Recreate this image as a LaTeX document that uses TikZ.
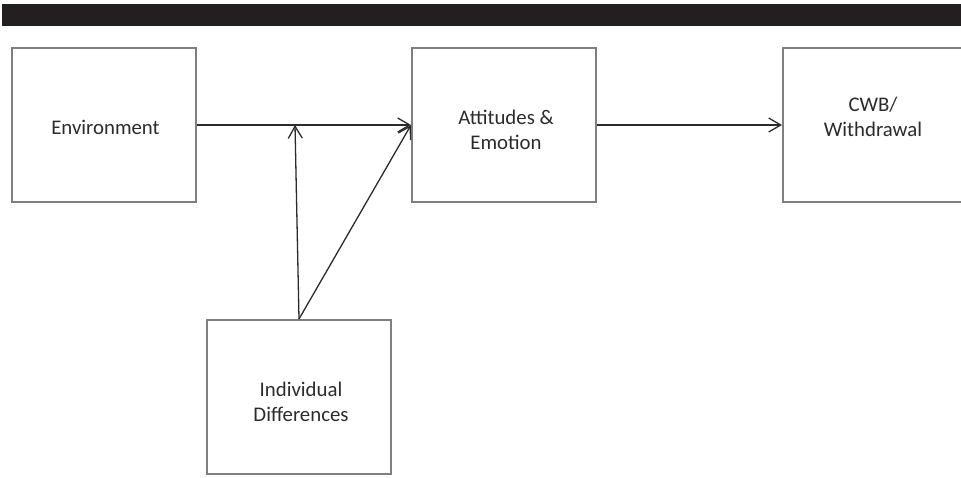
\documentclass[tikz,border=0pt]{standalone}
\usepackage{fontspec}
\setmainfont{Carlito}
\usetikzlibrary{arrows.meta, positioning}
\definecolor{barblack}{HTML}{231F20}
\definecolor{boxgray}{HTML}{7F7F7F}
\definecolor{inkgray}{HTML}{2B2B2B}
\tikzset{
  block/.style = {draw=boxgray, line width=1pt, minimum width=92pt, minimum height=77pt},
  boxtext/.style = {align=center, text=inkgray, inner sep=0pt, font=\fontsize{10.4}{12.5}\selectfont},
  link/.style = {draw=inkgray, line width=0.65pt, -{Straight Barb[length=6pt, width=7pt]}}
}

\begin{document}
\begin{tikzpicture}[x=0.5pt, y=-0.5pt]

  % Frame
  \useasboundingbox (0,0) rectangle (961,477);
  \clip (0,0) rectangle (961,477);
  \fill[barblack] (2,4) rectangle (961,26);

  % Boxes
  \node[block] (env) at (104,125) {};
  \node[block] (att) at (504,125) {};
  \node[block] (cwb) at (875,125) {};
  \node[block] (indiv) at (299,397) {};

  % Texts
  \node[boxtext] (envtext) at (105.5,127.5) {Environment};
  \node[boxtext] (atttext) at (506,129.5) {Attitudes \&\\Emotion};
  \node[boxtext] (cwbtext) at (873,117) {CWB/\\Withdrawal};
  \node[boxtext] (indivtext) at (301,401.5) {Individual\\Differences};

  % Arrows
  \coordinate (meet) at (295,125);
  \draw[link] (env) -- (att);
  \draw[link] (indiv.north) -- (meet);
  \draw[link] (indiv.north) -- (att.west);
  \draw[link] (att) -- (cwb);

\end{tikzpicture}
\end{document}
